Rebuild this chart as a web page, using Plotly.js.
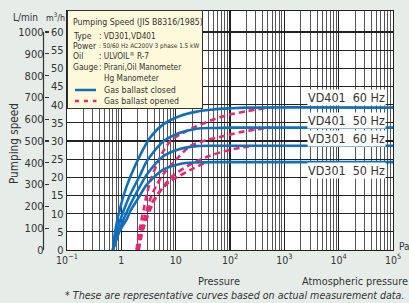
<!DOCTYPE html>
<html>
<head>
<meta charset="utf-8">
<script src="https://cdn.plot.ly/plotly-3.0.1.min.js"></script>
<style>
html,body{margin:0;padding:0;background:#e6ede9;}
#chart{width:409px;height:303px;}
</style>
</head>
<body>
<div id="chart"></div>
<script>
// ---- data (pressure in Pa, speed in m3/h) ----
const vd401_60_closed_p = [0.70, 0.75, 0.85, 0.95, 1.1, 1.45, 2.2, 3.37, 5.9, 12, 24.4, 49, 100, 200, 1e5];
const vd401_60_closed_s = [0, 4, 8.5, 11.5, 15, 20, 26, 30.9, 34.6, 36.9, 38.1, 38.7, 39.0, 39.2, 39.2];
const vd401_50_closed_p = [0.70, 0.78, 0.9, 1.05, 1.45, 2.2, 2.93, 5.9, 12, 24.4, 49, 100, 1e5];
const vd401_50_closed_s = [0, 3.5, 7, 10, 15.2, 20.5, 24.4, 29.9, 32.3, 33.4, 33.6, 33.7, 33.7];
const vd301_60_closed_p = [0.70, 0.8, 0.95, 1.1, 1.45, 2.2, 2.93, 5.9, 12, 24.4, 60, 1e5];
const vd301_60_closed_s = [0, 3, 6, 8.5, 12.4, 17.5, 20.7, 25.8, 27.8, 28.6, 28.7, 28.7];
const vd301_50_closed_p = [0.70, 0.8, 0.95, 1.26, 1.45, 2.2, 2.93, 5.9, 12, 24.4, 50, 1e5];
const vd301_50_closed_s = [0, 2.5, 5.5, 8.5, 10.6, 15, 18.0, 22.1, 23.7, 24.1, 24.2, 24.2];

const vd401_60_open_p = [1.9, 2.2, 2.6, 2.93, 3.5, 4.48, 5.92, 8, 12, 24.4, 49, 100, 200, 480];
const vd401_60_open_s = [0, 6, 11.5, 15.2, 19.5, 23.5, 27.2, 30, 31.8, 34.1, 35.9, 37.3, 38.2, 39.2];
const vd401_50_open_p = [2.0, 2.3, 2.8, 3.5, 4.5, 6, 9, 18.4, 37, 74, 150, 300, 545];
const vd401_50_open_s = [0, 5, 10, 14.5, 18, 21, 24, 28.6, 30.2, 31.3, 32.4, 33.2, 33.7];
const vd301_60_open_p = [2.1, 2.4, 3, 4, 6, 9, 18.4, 37, 74, 150, 270];
const vd301_60_open_s = [0, 4.5, 9, 13.5, 17.5, 20.5, 23.5, 25.6, 27.1, 28.1, 28.7];
const vd301_50_open_p = [2.0, 2.3, 2.8, 3.5, 5, 8, 12, 18.4, 37];
const vd301_50_open_s = [0, 4.5, 9, 12.5, 16, 19, 20.5, 22, 24.2];

const m3hTicks = [0, 5, 10, 15, 20, 25, 30, 35, 40, 45, 50, 55, 60];
const lpmTicks = [0, 100, 200, 300, 400, 500, 600, 700, 800, 900, 1000];
const xTickVals = [0.1, 1, 10, 100, 1000, 10000, 100000];
const xTickText = ['10<sup>\u22121</sup>', '1', '10', '10<sup>2</sup>', '10<sup>3</sup>', '10<sup>4</sup>', '10<sup>5</sup>'];
const curveLabels = ['VD401  60 Hz', 'VD401  50 Hz', 'VD301  60 Hz', 'VD301  50 Hz'];
const legendLabels = ['Gas ballast closed', 'Gas ballast opened'];

// ---- layout helpers ----
const W = 409, H = 303;
const px = x => x / W;
const py = y => 1 - y / H;
const FONT = 'DejaVu Sans Condensed, Liberation Sans Narrow, sans-serif';
const TXT = '#333';
const BLUE = '#0f6fbd';
const PINK = '#ec2573';
const yMax = 65.8;

const minorVals = [];
for (let e = -1; e < 5; e++) for (let d = 2; d <= 9; d++) minorVals.push(d * Math.pow(10, e));

function tr(p, s, dashed) {
  return {
    x: p, y: s, type: 'scatter', mode: 'lines',
    line: {color: dashed ? PINK : BLUE, width: 2.6, dash: dashed ? '6px,4px' : 'solid', shape: 'spline', smoothing: 0.8},
    showlegend: false, hoverinfo: 'skip'
  };
}

const data = [
  tr(vd401_60_open_p, vd401_60_open_s, true),
  tr(vd401_50_open_p, vd401_50_open_s, true),
  tr(vd301_60_open_p, vd301_60_open_s, true),
  tr(vd301_50_open_p, vd301_50_open_s, true),
  tr(vd401_60_closed_p, vd401_60_closed_s, false),
  tr(vd401_50_closed_p, vd401_50_closed_s, false),
  tr(vd301_60_closed_p, vd301_60_closed_s, false),
  tr(vd301_50_closed_p, vd301_50_closed_s, false),
  {x: [1, 1], y: [lpmTicks[0], lpmTicks[lpmTicks.length - 1]], yaxis: 'y2', type: 'scatter', mode: 'lines',
   line: {width: 0}, opacity: 0, showlegend: false, hoverinfo: 'skip'}
];

const ann = [];
const fitW = [];
function A(text, x, y, size, targetW, opts) {
  ann.push(Object.assign({text, xref: 'paper', yref: 'paper', x: px(x), y: py(y), showarrow: false,
    xanchor: 'left', yanchor: 'middle', font: {family: FONT, size, color: TXT}}, opts || {}));
  fitW.push(targetW || 0);
}
// legend sample segment drawn as an arrow-less annotation line
function seg(x0, x1, y, color) {
  ann.push({text: ' ', xref: 'paper', yref: 'paper', x: px(x1), y: py(y), ax: x0 - x1, ay: 0,
    showarrow: true, arrowhead: 0, arrowwidth: 2.6, arrowcolor: color, standoff: 0, startstandoff: 0,
    font: {family: FONT, size: 2, color: TXT}});
  fitW.push(0);
}
// info box background (first, so all text lies above it)
A(' ', 67, 10, 10, 0, {xanchor: 'left', yanchor: 'top', width: 134, height: 97, bgcolor: '#fdf9da',
  bordercolor: '#333', borderwidth: 1, borderpad: 0});
// box text
A('Pumping Speed (JIS B8316/1985)', 70.5, 22, 12, 130);
A('Type', 71, 36, 8.5); A(': VD301,VD401', 97, 36, 8.2);
A('Power', 71, 46, 8.5); A(': 50/60 Hz AC200V 3 phase 1.5 kW', 97, 46, 7, 101);
A('Oil', 71, 56, 8.5); A(': ULVOIL<sup>\u00ae</sup> R-7', 97, 56, 8.2);
A('Gauge', 71, 67, 8.5); A(': Pirani,Oil Manometer', 97, 67, 8.2);
A('Hg Manometer', 101.5, 78, 8.2);
A(legendLabels[0], 101.5, 90, 10, 72);
A(legendLabels[1], 101.5, 101, 10, 75);
seg(73, 96, 90, BLUE);
seg(73, 79, 101, PINK);
seg(82, 88, 101, PINK);
seg(91, 96.5, 101, PINK);
// curve labels
const labY = [97, 120, 138, 170];
curveLabels.forEach((t, i) => A(t, 386, labY[i], 12.5, 77, {xanchor: 'right', bgcolor: '#ffffff', borderpad: 0}));
// axis words
A('L/min', 40, 17, 11, 25, {xanchor: 'right'});
A('m<sup>3</sup>/h', 44, 17, 11, 19);
A('Pumping speed', 14, 144, 12, 81, {xanchor: 'center', textangle: -90});
A('Pa', 397, 246, 11, 10.5);
A('Pressure', 219, 281, 11, 42, {xanchor: 'center'});
A('Atmospheric pressure', 355, 281, 11, 106, {xanchor: 'center'});
A('* These are representative curves based on actual measurement data.', 235, 295, 11, 340,
  {xanchor: 'center', font: {family: FONT, size: 11, color: TXT, style: 'italic'}});

const shapes = [
  // L/min axis line
  {type: 'line', xref: 'paper', yref: 'y', x0: px(43.5), x1: px(43.5), y0: 0, y1: 60,
   line: {color: '#333', width: 1.2}}
];

const layout = {
  width: W, height: H,
  margin: {l: 0, r: 0, t: 0, b: 0},
  paper_bgcolor: '#e6ede9',
  plot_bgcolor: '#ffffff',
  showlegend: false,
  xaxis: {
    type: 'log', range: [-1, 5], domain: [px(67), px(393)],
    tickvals: xTickVals, ticktext: xTickText, ticks: '',
    showgrid: true, gridcolor: '#222', gridwidth: 1.2,
    minor: {tickvals: minorVals, showgrid: true, gridcolor: '#555', gridwidth: 1, ticks: ''},
    showline: true, linecolor: '#222', linewidth: 1.2, mirror: true, zeroline: false,
    tickfont: {family: FONT, size: 10.5, color: TXT}
  },
  yaxis: {
    range: [0, yMax], domain: [py(250), py(11)],
    tickvals: m3hTicks, ticks: '',
    showgrid: true, gridcolor: '#222', gridwidth: 1.2,
    showline: true, linecolor: '#222', linewidth: 1.2, mirror: true, zeroline: false,
    tickfont: {family: FONT, size: 11, color: TXT}
  },
  yaxis2: {
    overlaying: 'y', anchor: 'free', position: px(43.5), side: 'left',
    range: [0, yMax * 1000 / 60],
    tickvals: lpmTicks, ticks: 'inside', ticklen: 4, tickwidth: 1.2, tickcolor: '#333',
    showgrid: false, showline: false, zeroline: false,
    tickfont: {family: FONT, size: 11, color: TXT}
  },
  annotations: ann,
  shapes: shapes
};

Plotly.newPlot('chart', data, layout, {staticPlot: true, displayModeBar: false}).then(gd => {
  // fit annotation font sizes to the text widths measured on the reference
  const upd = {};
  gd.querySelectorAll('.annotation').forEach(g => {
    const i = +g.getAttribute('data-index');
    if (!fitW[i]) return;
    const t = g.querySelector('.annotation-text');
    if (!t) return;
    const w = t.getBBox().width;
    if (w > 0) upd['annotations[' + i + '].font.size'] = ann[i].font.size * fitW[i] / w;
  });
  return Plotly.relayout(gd, upd);
});
</script>
</body>
</html>
